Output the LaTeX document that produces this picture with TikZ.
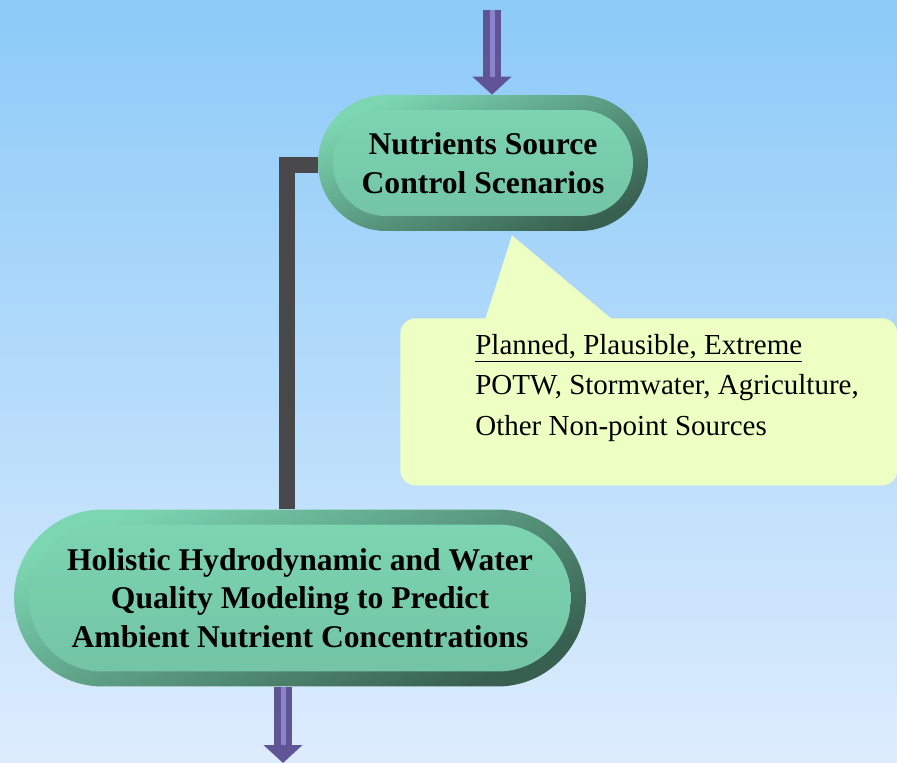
\documentclass[tikz,border=0pt]{standalone}
\usepackage{fontspec}
\setmainfont{Liberation Serif}
\usetikzlibrary{positioning, backgrounds, calc, shapes.misc, arrows.meta}
\definecolor{skytop}{RGB}{140,202,248}
\definecolor{skybottom}{RGB}{221,236,253}
\definecolor{pillface}{RGB}{125,214,178}
\definecolor{pillfacedark}{RGB}{114,195,163}
\definecolor{pillrimlight}{RGB}{124,214,178}
\definecolor{pillrimdark}{RGB}{56,96,80}
\definecolor{notefill}{RGB}{238,255,196}
\definecolor{flowpurple}{RGB}{94,84,150}
\definecolor{flowlilac}{RGB}{140,132,200}
\definecolor{pipegrey}{RGB}{72,72,74}

\tikzset{
  pill/.style={rounded rectangle, inner sep=0pt, align=center,
    font=\bfseries\fontsize{18}{22}\selectfont,
    top color=pillrimlight, bottom color=pillrimdark, shading angle=25,
    path picture={\shade[top color=pillface, bottom color=pillfacedark, rounded corners=#1]
      ([shift={(0.3cm,-0.3cm)}]path picture bounding box.north west) rectangle
      ([shift={(-0.3cm,0.3cm)}]path picture bounding box.south east);}},
  notebox/.style={rectangle, rounded corners=0.3cm, fill=notefill, inner sep=0pt},
  notetext/.style={inner sep=0pt, align=left, font=\fontsize{16.5}{23}\selectfont},
  flowarrow/.style={line width=0.36cm, flowpurple, -{Triangle[width=0.76cm, length=0.36cm]},
    postaction={draw=flowlilac, line width=0.1cm, -, shorten >=0.36cm}},
  pipe/.style={line width=0.32cm, pipegrey, line join=miter}
}

\begin{document}
\begin{tikzpicture}[x=0.02cm, y=-0.02cm]
    \useasboundingbox (0,0) rectangle (897,763);

    \node (scen) [pill=1.05cm, minimum width=6.6cm, minimum height=2.72cm] at (483,163)
        {Nutrients Source\\Control Scenarios};
    \node (model) [pill=1.46cm, minimum width=11.44cm, minimum height=3.54cm] at (300,598)
        {Holistic Hydrodynamic and Water\\Quality Modeling to Predict\\Ambient Nutrient Concentrations};

    \coordinate (in) at (492,10);
    \coordinate (out) at (283,763);
    \draw [flowarrow] (in) -- (in |- scen.north);
    \draw [flowarrow] (out |- model.south) -- (out);

    % callout with the scenario list
    \node (callout) [notebox, minimum width=9.94cm, minimum height=3.34cm, anchor=north west] at (400,318) {};
    \fill [notefill] ($(callout.north west)+(85,2)$) -- ($(scen.south)+(29,4)$)
        -- ($(callout.north west)+(213,2)$) -- cycle;
    \node (sources) [notetext, anchor=north west] at (475,334)
        {\underline{Planned, Plausible, Extreme}\\
         POTW, Stormwater, Agriculture,\\
         Other Non-point Sources};

    \begin{scope}[on background layer]
        \fill [top color=skytop, bottom color=skybottom] (0,0) rectangle (897,763);
        \draw [pipe] ($(scen.west)+(0,2)$) -| ($(model.north)+(-13,0)$);
    \end{scope}
\end{tikzpicture}
\end{document}
